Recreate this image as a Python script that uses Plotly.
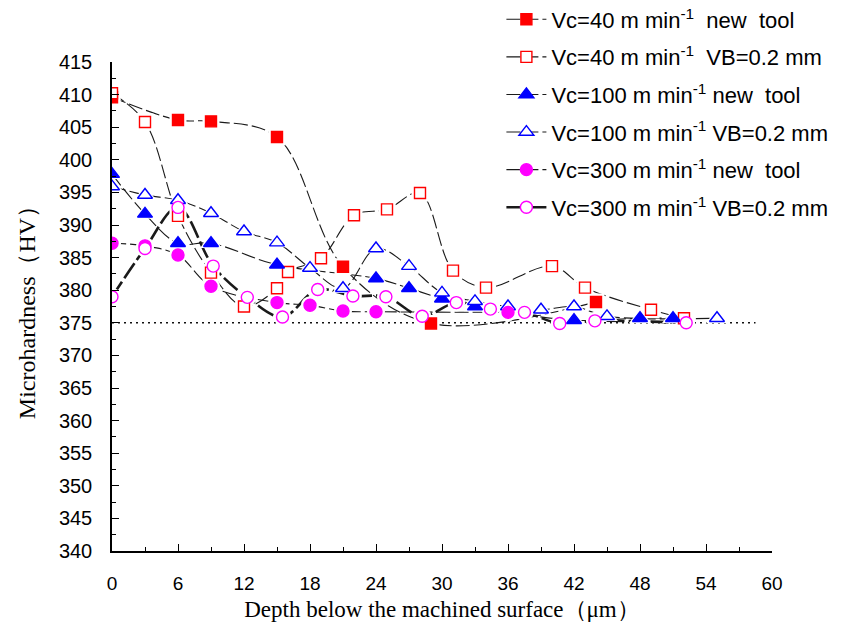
import plotly.graph_objects as go

# Microhardness profiles below the machined surface
depth_v40_new = [0, 6, 9, 15, 21, 29, 44]
hv_v40_new = [409.6, 406.1, 405.9, 403.5, 383.6, 374.9, 378.2]

depth_v40_worn = [0, 3, 6, 9, 12, 15, 16, 19, 22, 25, 28, 31, 34, 40, 43, 49, 52]
hv_v40_worn = [410.2, 405.8, 391.4, 382.7, 377.5, 380.3, 382.8, 384.9, 391.5,
               392.4, 394.9, 383.0, 380.4, 383.7, 380.4, 377.0, 375.7]

depth_v100_new = [0, 3, 6, 9, 15, 24, 27, 30, 33, 42, 48, 51]
hv_v100_new = [397.8, 391.7, 387.2, 387.2, 383.9, 381.8, 380.3, 378.7, 377.5,
               375.4, 375.7, 375.7]

depth_v100_worn = [0, 3, 6, 9, 12, 15, 18, 21, 24, 27, 30, 33, 36, 39, 42, 45, 55]
hv_v100_worn = [395.9, 394.6, 393.8, 391.8, 389.0, 387.3, 383.4, 380.3, 386.4,
                383.7, 379.6, 378.3, 377.5, 377.0, 377.5, 376.0, 375.7]

depth_v300_new = [0, 3, 6, 9, 15, 18, 21, 24, 36]
hv_v300_new = [387.2, 386.8, 385.4, 380.6, 378.1, 377.7, 376.8, 376.7, 376.6]

depth_v300_worn = [0, 3, 6, 9.2, 12.3, 15.5, 18.7, 21.9, 24.9, 28.2, 31.3, 34.4,
                   37.5, 40.7, 43.9, 52.2]
hv_v300_worn = [379.0, 386.4, 392.7, 383.7, 378.9, 375.9, 380.1, 379.1, 379.0,
                376.0, 378.1, 377.1, 376.6, 374.9, 375.3, 375.0]

# matrix hardness reference level
base_depth = [0, 58.5]
base_hv = [375, 375]

sup = "min<sup>-1</sup>"
series = [
    dict(x=depth_v40_new, y=hv_v40_new, name=f"Vc=40 m {sup}&nbsp; new&nbsp; tool",
         symbol="square", color="#FF0000", fill="#FF0000", size=11, width=1.1, dash="14px,4px"),
    dict(x=depth_v40_worn, y=hv_v40_worn, name=f"Vc=40 m {sup}&nbsp; VB=0.2 mm",
         symbol="square", color="#FF0000", fill="white", size=11, width=1.1, dash="14px,4px"),
    dict(x=depth_v100_new, y=hv_v100_new, name=f"Vc=100 m {sup} new&nbsp; tool",
         symbol="triangle-up", color="#0000FF", fill="#0000FF", size=13, width=1.1, dash="14px,4px"),
    dict(x=depth_v100_worn, y=hv_v100_worn, name=f"Vc=100 m {sup} VB=0.2 mm",
         symbol="triangle-up", color="#0000FF", fill="white", size=13, width=1.1, dash="14px,4px"),
    dict(x=depth_v300_new, y=hv_v300_new, name=f"Vc=300 m {sup} new&nbsp; tool",
         symbol="circle", color="#FF00FF", fill="#FF00FF", size=12, width=1.1, dash="14px,4px"),
    dict(x=depth_v300_worn, y=hv_v300_worn, name=f"Vc=300 m {sup} VB=0.2 mm",
         symbol="circle", color="#FF00FF", fill="white", size=12, width=2.6, dash="18px,4px"),
]

fig = go.Figure()

fig.add_trace(go.Scatter(
    x=base_depth, y=base_hv, mode="lines", showlegend=False, hoverinfo="skip",
    line=dict(color="#111111", width=1.6, dash="2px,4px"),
))

# smoothed lines (with legend entries)
for i, s in enumerate(series):
    fig.add_trace(go.Scatter(
        x=s["x"], y=s["y"], name=s["name"], mode="lines+markers",
        legendgroup=f"g{i}",
        line=dict(color="#1a1a1a", width=s["width"], dash=s["dash"], shape="spline", smoothing=1.0),
        marker=dict(symbol=s["symbol"], size=s["size"], color=s["fill"],
                    line=dict(color=s["color"], width=1.4)),
    ))

# white halo that opens a small gap in the lines around every marker
for s in series:
    fig.add_trace(go.Scatter(
        x=s["x"], y=s["y"], mode="markers", showlegend=False, hoverinfo="skip",
        marker=dict(symbol=s["symbol"], size=s["size"] + 6, color="white",
                    line=dict(width=0)),
    ))

for s in series:
    fig.add_trace(go.Scatter(
        x=s["x"], y=s["y"], mode="markers", showlegend=False,
        marker=dict(symbol=s["symbol"], size=s["size"], color=s["fill"],
                    line=dict(color=s["color"], width=1.4)),
    ))

fig.update_layout(
    width=862, height=632,
    margin=dict(l=112, r=90, t=62, b=81, autoexpand=False),
    paper_bgcolor="white", plot_bgcolor="white",
    font=dict(family="Liberation Sans, Arial, sans-serif", color="black"),
    legend=dict(
        x=0.59, xanchor="left", y=1.13, yanchor="top",
        font=dict(size=22, family="Liberation Sans, Arial, sans-serif"),
        traceorder="grouped", tracegroupgap=6,
        bgcolor="rgba(0,0,0,0)", itemwidth=40,
    ),
)

fig.update_xaxes(
    range=[0, 60], tick0=0, dtick=6, showgrid=False, zeroline=False,
    showline=True, linecolor="black", linewidth=1.5,
    ticks="inside", ticklen=7, tickwidth=1.2, tickcolor="black",
    minor=dict(ticks="inside", ticklen=4, dtick=3, tickcolor="black", tickwidth=1.2),
    tickfont=dict(size=19, family="Liberation Sans Narrow, Arial Narrow, Liberation Sans, sans-serif"),
    ticklabelstandoff=14,
    title=dict(text="Depth below the machined surface（μm）", standoff=8,
               font=dict(size=23, family="Liberation Serif, Times New Roman, serif")),
)
fig.update_yaxes(
    range=[340, 415], tick0=340, dtick=5, showgrid=False, zeroline=False,
    showline=True, linecolor="black", linewidth=1.5,
    ticks="inside", ticklen=7, tickwidth=1.2, tickcolor="black",
    minor=dict(ticks="inside", ticklen=4, dtick=2.5, tickcolor="black", tickwidth=1.2),
    tickfont=dict(size=20, family="Liberation Sans, Arial, sans-serif"),
    ticklabelstandoff=14,
    title=dict(text="Microhardness（HV）", standoff=16,
               font=dict(size=24, family="Liberation Serif, Times New Roman, serif")),
)

fig.write_html("out.html")
